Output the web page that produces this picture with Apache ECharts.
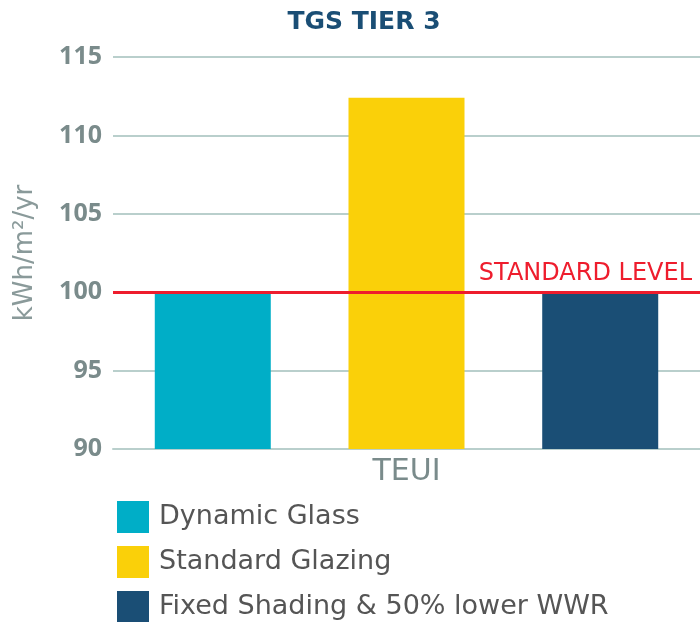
<!DOCTYPE html>
<html>
<head>
<meta charset="utf-8">
<script src="https://cdn.jsdelivr.net/npm/echarts@6/dist/echarts.min.js"></script>
<style>
  html, body { margin: 0; padding: 0; background: #fff; }
  #chart { width: 700px; height: 622px; }
</style>
</head>
<body>
<div id="chart"></div>
<script>
// data
var categories = ["TEUI"];
var seriesNames = ["Dynamic Glass", "Standard Glazing", "Fixed Shading & 50% lower WWR"];
var seriesValues = [[100], [112.4], [100]];
var seriesColors = ["#00AEC7", "#FAD009", "#1A4E75"];
var standardLevel = 100;
var yTicks = { min: 90, max: 115, interval: 5 };

var chart = echarts.init(document.getElementById("chart"));

var series = seriesNames.map(function (name, i) {
  var s = {
    name: name,
    type: "bar",
    data: seriesValues[i],
    barWidth: 116,
    barGap: "67%",
    itemStyle: { color: seriesColors[i] }
  };
  if (i === seriesNames.length - 1) {
    // red standard line, drawn over the bars
    s.markLine = {
      silent: true,
      symbol: "none",
      lineStyle: { color: "#EE1D2D", width: 3, type: "solid" },
      label: {
        position: "insideEndTop",
        formatter: "STANDARD LEVEL",
        color: "#EE1D2D",
        fontSize: 24,
        fontFamily: "DejaVu Sans",
        distance: [8, 6]
      },
      data: [{ yAxis: standardLevel }]
    };
  }
  return s;
});

var option = {
  backgroundColor: "#fff",
  animation: false,
  title: {
    text: "TGS TIER 3",
    left: 359,
    textAlign: "center",
    top: 5,
    textStyle: { color: "#1A4E75", fontSize: 25, fontWeight: "bold", fontFamily: "DejaVu Sans" }
  },
  grid: { left: 113, right: 0, top: 57, bottom: 173 },
  legend: {
    orient: "vertical",
    left: 117,
    top: 501,
    height: 140,
    padding: 0,
    itemWidth: 32,
    itemHeight: 32,
    itemGap: 13,
    icon: "rect",
    data: seriesNames,
    textStyle: { color: "#555", fontSize: 27, fontFamily: "DejaVu Sans", padding: [0, 0, 0, 5] }
  },
  xAxis: {
    type: "category",
    data: categories,
    axisLine: { lineStyle: { color: "#B9CFCC", width: 2 } },
    axisTick: { show: false },
    axisLabel: { color: "#7A8B8B", fontSize: 30, fontFamily: "DejaVu Sans", margin: 8 }
  },
  yAxis: {
    type: "value",
    min: yTicks.min,
    max: yTicks.max,
    interval: yTicks.interval,
    name: "kWh/m²/yr",
    nameLocation: "middle",
    nameGap: 75,
    nameTextStyle: { color: "#8A9A9A", fontSize: 26, fontFamily: "DejaVu Sans" },
    axisLine: { show: false },
    axisTick: { show: false },
    axisLabel: { color: "#7A8B8B", fontSize: 25, fontWeight: "bold", fontFamily: "Open Sans", margin: 11 },
    splitLine: { lineStyle: { color: "#B9CFCC", width: 2 } }
  },
  series: series
};

chart.setOption(option);
</script>
</body>
</html>
